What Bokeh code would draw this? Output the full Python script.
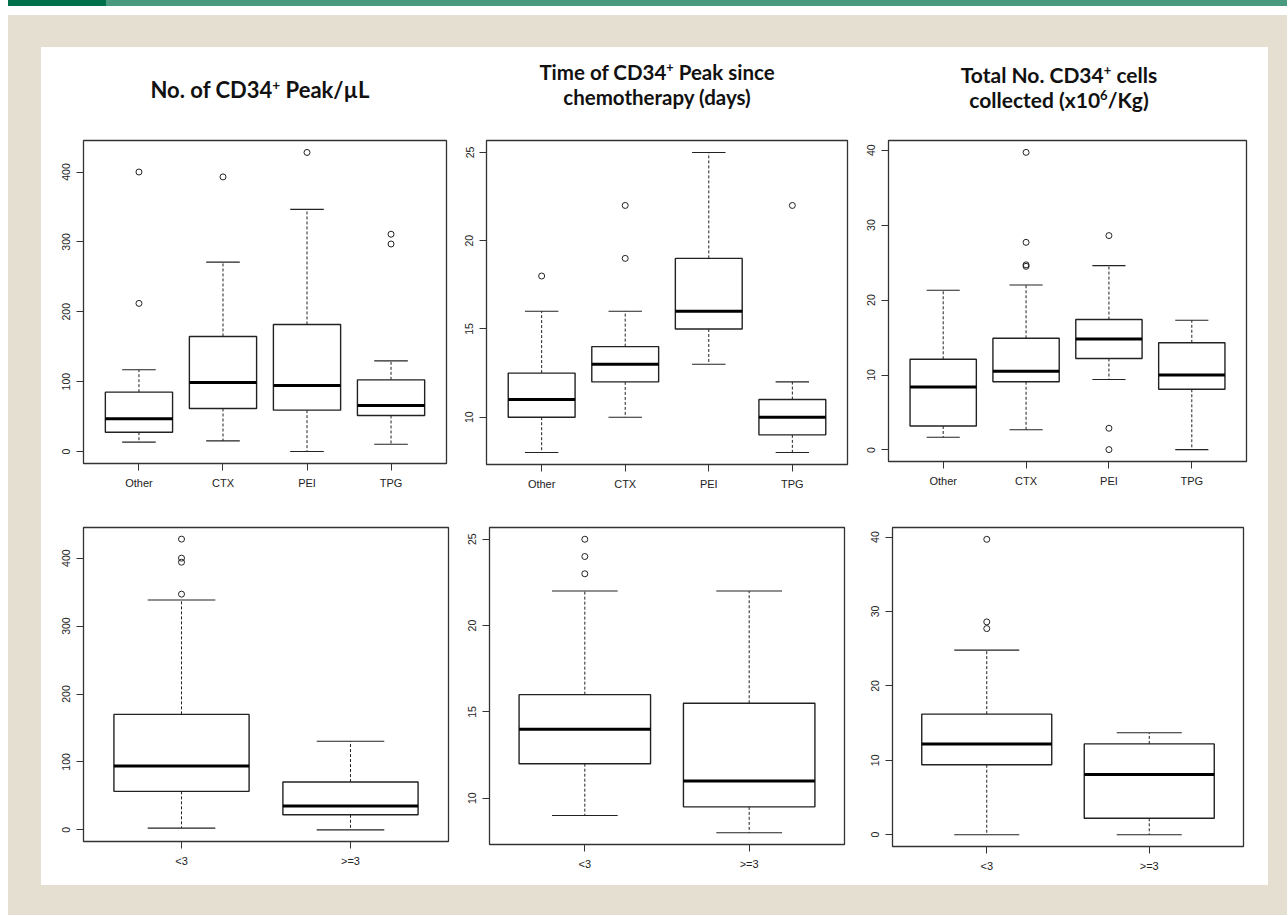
from bokeh.plotting import figure
from bokeh.models import Range1d, FactorRange, FixedTicker, Div, Spacer
from bokeh.layouts import row, column
from bokeh.embed import file_html
from bokeh.resources import INLINE

# ---------------- data ----------------
treat_groups = ["Other", "CTX", "PEI", "TPG"]
line_groups = ["<3", ">=3"]

titles = [
    "No. of CD34<sup>+</sup> Peak/µL",
    "Time of CD34<sup>+</sup> Peak since<br>chemotherapy (days)",
    "Total No. CD34<sup>+</sup> cells<br>collected (x10<sup>6</sup>/Kg)",
]

ticks_peak = [0, 100, 200, 300, 400]
ticks_time = [10, 15, 20, 25]
ticks_total = [0, 10, 20, 30, 40]

# No. of CD34+ peak / uL by chemotherapy
peak_t_lw = [13.4, 15.3, 0.0, 10.5]
peak_t_q1 = [27.7, 61.6, 59.2, 51.6]
peak_t_med = [46.8, 98.8, 94.5, 65.9]
peak_t_q3 = [85.0, 164.7, 181.9, 102.6]
peak_t_uw = [117.0, 271.0, 346.5, 129.8]
peak_t_out_cat = ["Other", "Other", "CTX", "PEI", "TPG", "TPG"]
peak_t_out_val = [212.0, 400.0, 393.0, 428.0, 297.0, 311.0]

# Time of CD34+ peak since chemotherapy by chemotherapy
time_t_lw = [8, 10, 13, 8]
time_t_q1 = [10, 12, 15, 9]
time_t_med = [11, 13, 16, 10]
time_t_q3 = [12.5, 14, 19, 11]
time_t_uw = [16, 16, 25, 12]
time_t_out_cat = ["Other", "CTX", "CTX", "TPG"]
time_t_out_val = [18, 19, 22, 22]

# Total CD34+ collected by chemotherapy
total_t_lw = [1.7, 2.7, 9.4, 0.05]
total_t_q1 = [3.2, 9.1, 12.2, 8.1]
total_t_med = [8.4, 10.5, 14.8, 10.0]
total_t_q3 = [12.1, 14.9, 17.4, 14.3]
total_t_uw = [21.3, 22.0, 24.6, 17.3]
total_t_out_cat = ["CTX", "CTX", "CTX", "CTX", "PEI", "PEI", "PEI"]
total_t_out_val = [24.5, 24.7, 27.7, 39.7, 0.05, 2.9, 28.6]

# by number of previous lines
peak_l_lw = [2.5, 0.0]
peak_l_q1 = [56.7, 22.2]
peak_l_med = [94.0, 35.0]
peak_l_q3 = [170.0, 70.4]
peak_l_uw = [338.4, 130.5]
peak_l_out_cat = ["<3", "<3", "<3", "<3"]
peak_l_out_val = [347.0, 394.0, 400.0, 428.0]

time_l_lw = [9, 8]
time_l_q1 = [12, 9.5]
time_l_med = [14, 11]
time_l_q3 = [16, 15.5]
time_l_uw = [22, 22]
time_l_out_cat = ["<3", "<3", "<3"]
time_l_out_val = [23, 24, 25]

total_l_lw = [0.0, 0.0]
total_l_q1 = [9.4, 2.2]
total_l_med = [12.2, 8.1]
total_l_q3 = [16.2, 12.2]
total_l_uw = [24.8, 13.7]
total_l_out_cat = ["<3", "<3", "<3"]
total_l_out_val = [27.7, 28.6, 39.7]

# ---------------- styling ----------------
BEIGE = "#e5dfd2"
INK = "#222222"


def boxplot(cats, lw, q1, med, q3, uw, out_cat, out_val, yticks,
            fw, fh, bl, br, bt, bb):
    allv = list(lw) + list(uw) + list(out_val)
    lo, hi = min(allv), max(allv)
    pad = 0.04 * (hi - lo)
    p = figure(x_range=FactorRange(factors=cats, range_padding=0.08),
               y_range=Range1d(lo - pad, hi + pad),
               frame_width=fw, frame_height=fh,
               min_border_left=bl, min_border_right=br,
               min_border_top=bt, min_border_bottom=bb,
               toolbar_location=None, output_backend="svg",
               background_fill_color="white", border_fill_color="white")
    left = [(c, -0.2) for c in cats]
    right = [(c, 0.2) for c in cats]
    mleft = [(c, -0.4) for c in cats]
    mright = [(c, 0.4) for c in cats]
    # whiskers
    p.segment(x0=cats, y0=q3, x1=cats, y1=uw, line_color=INK,
              line_width=1, line_dash="3 2")
    p.segment(x0=cats, y0=q1, x1=cats, y1=lw, line_color=INK,
              line_width=1, line_dash="3 2")
    # staples
    p.segment(x0=left, y0=uw, x1=right, y1=uw, line_color=INK, line_width=1.1)
    p.segment(x0=left, y0=lw, x1=right, y1=lw, line_color=INK, line_width=1.1)
    # boxes
    p.vbar(x=cats, width=0.8, bottom=q1, top=q3, fill_color="white",
           line_color=INK, line_width=1.4)
    # medians
    p.segment(x0=mleft, y0=med, x1=mright, y1=med, line_color="black",
              line_width=3)
    # outliers
    p.scatter(x=out_cat, y=out_val, marker="circle", size=6,
              fill_color=None, line_color=INK, line_width=1)

    p.xgrid.visible = False
    p.ygrid.visible = False
    p.yaxis.ticker = FixedTicker(ticks=yticks)
    for ax in p.axis:
        ax.axis_line_color = None
        ax.major_tick_in = 0
        ax.major_tick_out = 7
        ax.major_tick_line_color = "#333333"
        ax.minor_tick_line_color = None
        ax.major_label_text_font = "Liberation Sans"
        ax.major_label_text_color = INK
    p.xaxis.major_label_text_font_size = "11px"
    p.xaxis.major_label_standoff = 6
    p.yaxis.major_label_text_font_size = "10.5px"
    p.yaxis.major_label_standoff = 6
    p.yaxis.major_label_orientation = "vertical"
    p.outline_line_color = "#333333"
    p.outline_line_width = 1.3
    return p


def title_div(html, w, pt, pl, pr, fs, lh):
    t = ('<div style="width:%dpx;box-sizing:border-box;padding:%dpx %dpx 0 %dpx;'
         'text-align:center;font-family:Lato, sans-serif;font-weight:bold;'
         'font-size:%.1fpx;line-height:%dpx;color:#111">%s</div>'
         % (w, pt, pr, pl, fs, lh, html.replace("<sup>",
            '<sup style="font-size:0.62em;line-height:0;vertical-align:0.6em">')))
    return Div(text=t, width=w, height=80, margin=0)


p1 = boxplot(treat_groups, peak_t_lw, peak_t_q1, peak_t_med, peak_t_q3, peak_t_uw,
             peak_t_out_cat, peak_t_out_val, ticks_peak, 363, 323, 42, 12, 10, 40)
p2 = boxplot(treat_groups, time_t_lw, time_t_q1, time_t_med, time_t_q3, time_t_uw,
             time_t_out_cat, time_t_out_val, ticks_time, 361, 324, 28, 15, 11, 38)
p3 = boxplot(treat_groups, total_t_lw, total_t_q1, total_t_med, total_t_q3, total_t_uw,
             total_t_out_cat, total_t_out_val, ticks_total, 358, 321, 26, 22, 13, 39)
p4 = boxplot(line_groups, peak_l_lw, peak_l_q1, peak_l_med, peak_l_q3, peak_l_uw,
             peak_l_out_cat, peak_l_out_val, ticks_peak, 365, 314, 42, 10, 26, 45)
p5 = boxplot(line_groups, time_l_lw, time_l_q1, time_l_med, time_l_q3, time_l_uw,
             time_l_out_cat, time_l_out_val, ticks_time, 355, 317, 31, 22, 27, 41)
p6 = boxplot(line_groups, total_l_lw, total_l_q1, total_l_med, total_l_q3, total_l_uw,
             total_l_out_cat, total_l_out_val, ticks_total, 351, 319, 26, 25, 23, 43)

title_row = row(title_div(titles[0], 417, 30, 21, 0, 22, 26),
                title_div(titles[1], 404, 13, 0, 6, 20.5, 25),
                title_div(titles[2], 406, 15, 0, 12, 21, 25), spacing=0)

white = column(title_row, row(p1, p2, p3, spacing=0), row(p4, p5, p6, spacing=0),
               spacing=0, styles={"background-color": "white"})

beige = column(Spacer(width=1279, height=32),
               row(Spacer(width=33, height=838), white,
                   Spacer(width=19, height=838), spacing=0),
               Spacer(width=1279, height=30),
               spacing=0, styles={"background-color": BEIGE})

green = row(Spacer(width=8, height=6),
            Spacer(width=1279, height=6, styles={
                "background": "linear-gradient(to right, #00704a 0px, #00704a 98px, #4a9a80 98px)"}),
            spacing=0)
gap = Spacer(width=1287, height=9)

root = column(green, gap, row(Spacer(width=8, height=900), beige, spacing=0), spacing=0)

open("out.html", "w").write(file_html(root, INLINE))
